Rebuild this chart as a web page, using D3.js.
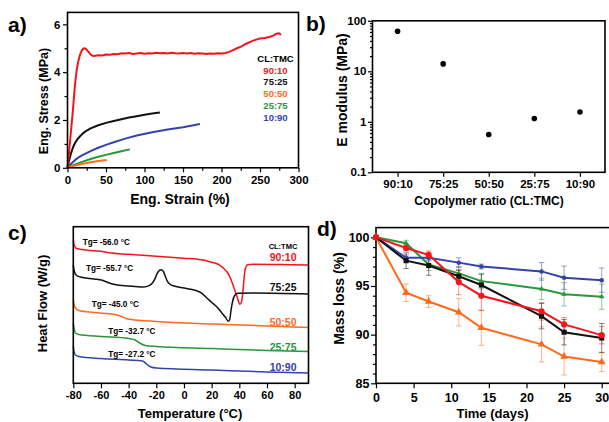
<!DOCTYPE html>
<html><head><meta charset="utf-8">
<script src="https://cdn.jsdelivr.net/npm/d3@7"></script>
<style>body{margin:0;background:#fff}</style>
</head><body><svg id="c" width="609" height="422"></svg>
<script>
const FONT = '"Liberation Sans", Arial, Helvetica, sans-serif';
// ---------- shared ----------
const ratios = ["90:10","75:25","50:50","25:75","10:90"];
const ratioColors = ["#f2161c","#111111","#ff6a1c","#28973a","#3443aa"];

// ---------- panel a: stress-strain ----------
const curve9010 = [[0,0],[1,0.3],[2,0.65],[3,1.0],[4,1.35],[5,1.7],[6,2.05],[7,2.4],[8,2.8],[9,3.2],[10,3.55],[11,3.85],[12,4.1],[14,4.45],[16,4.7],[18,4.87],[20,4.97],[22,5.0],[24,4.97],[27,4.86],[30,4.74],[33,4.68],[36,4.69],[40,4.71],[45,4.7],[50,4.74],[55,4.73],[60,4.76],[65,4.75],[70,4.79],[75,4.78],[80,4.8],[85,4.76],[90,4.78],[95,4.8],[100,4.77],[105,4.79],[110,4.78],[115,4.81],[120,4.79],[125,4.8],[130,4.78],[135,4.81],[140,4.79],[145,4.78],[150,4.8],[155,4.78],[160,4.8],[165,4.77],[170,4.79],[175,4.78],[180,4.76],[185,4.78],[190,4.77],[195,4.79],[200,4.78],[205,4.8],[210,4.85],[215,4.92],[220,5.0],[226,5.08],[232,5.19],[238,5.28],[244,5.35],[250,5.41],[256,5.43],[262,5.47],[267,5.53],[271,5.6],[274,5.63],[276,5.6],[277,5.55]];
const curve7525 = [[0,0],[2,0.3],[4,0.55],[6,0.75],[8,0.92],[10,1.05],[13,1.2],[16,1.31],[20,1.44],[25,1.56],[30,1.65],[40,1.78],[50,1.88],[60,1.96],[70,2.03],[80,2.1],[90,2.16],[100,2.22],[110,2.27],[120,2.31]];
const curve5050 = [[0,0],[5,0.06],[10,0.1],[20,0.17],[30,0.23],[40,0.28],[51,0.33]];
const curve2575 = [[0,0],[5,0.08],[10,0.14],[20,0.26],[30,0.37],[40,0.46],[50,0.54],[60,0.62],[70,0.69],[81,0.77]];
const curve1090 = [[0,0],[5,0.18],[10,0.33],[15,0.45],[20,0.54],[30,0.7],[40,0.84],[50,0.96],[60,1.07],[75,1.22],[90,1.35],[110,1.49],[130,1.6],[150,1.7],[172,1.83]];
const strainTicks = [0,50,100,150,200,250,300];
const strainMinor = [25,75,125,175,225,275];
const stressTicks = [0,2,4,6];
const stressMinor = [1,3,5];

// ---------- panel b: modulus ----------
const modulus = [62, 14, 0.56, 1.16, 1.56];
const modulusTicks = [0.1, 1, 10, 100];

// ---------- panel c: DSC ----------
const dsc9010 = [[-80,14.3],[-79.5,13.9],[-79,13.7],[-78,13.5],[-75,13.4],[-65,13.25],[-58,13.15],[-54,13.05],[-40,12.9],[-20,12.7],[0,12.5],[10,12.4],[15,12.3],[20,12.1],[23,12.0],[26,11.8],[29,11.45],[31,11.15],[33,10.7],[35,10.0],[37,9.2],[38.5,8.6],[39.7,8.05],[40.4,7.9],[41.5,8.1],[42.3,8.8],[43,9.8],[43.7,10.9],[44.5,11.55],[46,11.85],[50,11.9],[70,11.87],[90,11.83]];
const dsc7525 = [[-80,11.83],[-79.5,11.33],[-78,10.83],[-75,10.63],[-65,10.43],[-59,10.3],[-55,10.08],[-50,9.88],[-40,9.73],[-30,9.63],[-26,9.72],[-23,10.0],[-21,10.45],[-19.5,10.95],[-18,11.25],[-16.5,11.35],[-15,11.2],[-13.5,10.7],[-12,10.2],[-10,9.9],[-7,9.73],[0,9.53],[8,9.3],[13,9.0],[16,8.6],[20,8.1],[24,7.6],[27,7.1],[30,6.6],[32,6.2],[33,6.35],[34,7.3],[35,8.1],[36.5,8.75],[39,9.0],[50,9.03],[90,8.93]];
const dsc5050 = [[-80,8.33],[-79.5,7.93],[-78.5,7.53],[-76,7.28],[-65,7.08],[-50,6.88],[-46,6.73],[-42,6.48],[-38,6.38],[-20,6.18],[20,5.93],[60,5.73],[90,5.58]];
const dsc2575 = [[-80,5.93],[-79.5,5.53],[-78.5,5.03],[-76,4.88],[-60,4.68],[-40,4.48],[-36,4.38],[-32,4.03],[-28,3.78],[-20,3.68],[20,3.48],[60,3.28],[90,3.18]];
const dsc1090 = [[-80,3.68],[-79.5,3.23],[-78.5,2.83],[-76,2.68],[-60,2.48],[-40,2.33],[-30,2.23],[-27,1.93],[-24,1.63],[-20,1.53],[20,1.33],[60,1.13],[90,1.03]];
const tgLabels = ["Tg= -56.0 °C","Tg= -55.7 °C","Tg= -45.0 °C","Tg= -32.7 °C","Tg= -27.2 °C"];
const tempTicks = [-80,-60,-40,-20,0,20,40,60,80];

// ---------- panel d: degradation ----------
const days = [0,4,7,11,14,22,25,30];
const mass9010 = [100,98.9,98.2,95.4,94.0,92.4,91.05,89.95];
const err9010  = [0,0.3,0.4,1.3,1.5,0.9,0.7,0.9];
const mass7525 = [100,97.6,97.1,96.0,95.1,91.9,90.25,89.65];
const err7525  = [0,0.8,1.0,0.6,1.1,1.3,1.3,1.5];
const mass5050 = [100,94.3,93.4,92.3,90.7,89.0,87.75,87.2];
const err5050  = [0,0.9,0.6,1.4,1.8,1.8,1.9,1.0];
const mass2575 = [100,99.4,97.2,96.3,95.5,94.7,94.15,93.9];
const err2575  = [0,0.3,0.6,0.7,0.8,1.1,1.2,1.3];
const mass1090 = [100,97.9,97.9,97.4,97.0,96.5,95.85,95.6];
const err1090  = [0,0.3,0.3,0.5,0.25,0.9,1.2,1.25];
const dayTicks = [0,5,10,15,20,25,30];
const massTicks = [85,90,95,100];
const massMinor = d3.range(86,101).filter(v => v % 5 !== 0);

const svg = d3.select("#c");
svg.append("rect").attr("width",609).attr("height",422).attr("fill","#fff");

function styleAxis(g, fs) {
  g.select(".domain").remove();
  g.selectAll(".tick line").attr("stroke","#000").attr("stroke-width",1.2);
  g.selectAll(".tick text").attr("font-size",fs).attr("font-weight","bold")
    .attr("fill","#000").attr("font-family",FONT);
  return g;
}
function addAxis(gen, tr, fs) {
  const g = svg.append("g").attr("transform", tr).call(gen);
  return styleAxis(g, fs);
}
function frame(x0,y0,x1,y1){
  svg.append("rect").attr("x",x0).attr("y",y0).attr("width",x1-x0).attr("height",y1-y0)
    .attr("fill","none").attr("stroke","#000").attr("stroke-width",1.6);
}
function txt(x,y,s,fs,opts={}) {
  const t = svg.append("text").attr("x",x).attr("y",y).text(s)
    .attr("font-family",FONT).attr("font-weight","bold").attr("font-size",fs)
    .attr("fill",opts.fill||"#000").attr("text-anchor",opts.anchor||"start");
  if (opts.rotate) t.attr("transform",`rotate(-90,${x},${y})`);
  return t;
}
const fmt = d => String(d);

// ================= Panel a =================
{
  const x = d3.scaleLinear([0,300],[67.5,298.5]);
  const y = d3.scaleLinear([0,6.5],[167.8,12.4]);
  addAxis(d3.axisBottom(x).tickValues(strainTicks).tickFormat(fmt).tickSize(4.5).tickPadding(4), "translate(0,167.8)", 11.5);
  addAxis(d3.axisBottom(x).tickValues(strainMinor).tickFormat("").tickSize(3), "translate(0,167.8)", 11);
  addAxis(d3.axisLeft(y).tickValues(stressTicks).tickFormat(fmt).tickSize(4.5).tickPadding(2.5), "translate(67.5,0)", 11.5);
  addAxis(d3.axisLeft(y).tickValues(stressMinor).tickFormat("").tickSize(3), "translate(67.5,0)", 11);
  const line = d3.line().x(d=>x(d[0])).y(d=>y(d[1]));
  const curves = [curve9010, curve7525, curve5050, curve2575, curve1090];
  [4,3,2,1,0].forEach(i => {
    svg.append("path").attr("d", line(curves[i])).attr("fill","none")
      .attr("stroke", ratioColors[i]).attr("stroke-width", 2).attr("stroke-linejoin","round");
  });
  frame(67.5,12.4,298.5,167.8);
  txt(275.5,62,"CL:TMC",9.5,{anchor:"middle"});
  ratios.forEach((r,i)=> txt(275.5,73.5+i*11.8,r,9.5,{anchor:"middle",fill:ratioColors[i]}));
  txt(48,101,"Eng. Stress (MPa)",12.5,{anchor:"middle",rotate:true});
  txt(180,204,"Eng. Strain (%)",14,{anchor:"middle"});
  txt(8,32,"a)",21);
}

// ================= Panel b =================
{
  const x = d3.scalePoint(ratios,[372.5,605]).padding(0.55);
  const y = d3.scaleLog([0.1,100],[172.3,20.8]);
  const minor = [];
  [0.1,1,10].forEach(b => { for (let k=2;k<=9;k++) minor.push(b*k); });
  addAxis(d3.axisBottom(x).tickSize(4.5).tickPadding(3.5), "translate(0,172.3)", 11.5);
  addAxis(d3.axisLeft(y).tickValues(modulusTicks).tickFormat(d=>d<1?"0.1":String(d)).tickSize(4.5).tickPadding(1.5), "translate(372.5,0)", 11.5);
  addAxis(d3.axisLeft(y).tickValues(minor).tickFormat("").tickSize(2.5), "translate(372.5,0)", 11);
  frame(372.5,20.8,605,172.3);
  svg.append("g").selectAll("circle").data(modulus).join("circle")
    .attr("cx",(d,i)=>x(ratios[i])).attr("cy",d=>y(d)).attr("r",2.8).attr("fill","#000");
  txt(347,90,"E modulus (MPa)",14,{anchor:"middle",rotate:true});
  txt(489,205,"Copolymer ratio (CL:TMC)",12,{anchor:"middle"});
  txt(306,31,"b)",21);
}

// ================= Panel c =================
{
  const x = d3.scaleLinear([-80,90],[73.3,308.5]);
  const y = d3.scaleLinear([0,15.66],[383.3,226.7]);
  addAxis(d3.axisBottom(x).tickValues(tempTicks).tickFormat(fmt).tickSize(5).tickPadding(2.5), "translate(0,383.3)", 11);
  const line = d3.line().x(d=>x(d[0])).y(d=>y(d[1])).curve(d3.curveMonotoneX);
  const curves = [dsc9010, dsc7525, dsc5050, dsc2575, dsc1090];
  [4,3,2,0,1].forEach(i => {
    svg.append("path").attr("d", line(curves[i])).attr("fill","none")
      .attr("stroke", ratioColors[i]).attr("stroke-width", 1.5).attr("stroke-linejoin","round");
  });
  frame(73.3,226.7,308.5,383.3);
  const tgPos = [[82.7,245],[86,270.5],[91.7,307],[108.3,334],[108.3,357.2]];
  tgLabels.forEach((s,i)=> txt(tgPos[i][0],tgPos[i][1],s,8.2));
  txt(283,248.5,"CL:TMC",7.5,{anchor:"middle"});
  const legY = [260.5,290.5,325.5,350.5,371];
  ratios.forEach((r,i)=> txt(296.5,legY[i],r,10.5,{anchor:"end",fill:ratioColors[i]}));
  txt(47,303.5,"Heat Flow (W/g)",13,{anchor:"middle",rotate:true});
  txt(190,418,"Temperature (°C)",13,{anchor:"middle"});
  txt(8,240,"c)",21);
}

// ================= Panel d =================
{
  const x = d3.scaleLinear([0,31.5],[376,613]);
  const y = d3.scaleLinear([85,101],[383.3,227.6]);
  addAxis(d3.axisBottom(x).tickValues(dayTicks).tickFormat(fmt).tickSize(5).tickPadding(4.5), "translate(0,383.3)", 12.5);
  addAxis(d3.axisLeft(y).tickValues(massTicks).tickFormat(fmt).tickSize(5).tickPadding(1.5), "translate(376,0)", 12.5);
  addAxis(d3.axisLeft(y).tickValues(massMinor).tickFormat("").tickSize(3), "translate(376,0)", 11);
  frame(376,227.6,614,383.3);
  const series = [
    {m:mass5050,e:err5050,c:ratioColors[2],sym:d3.symbolTriangle,size:26},
    {m:mass2575,e:err2575,c:ratioColors[3],sym:d3.symbolTriangle2,size:22},
    {m:mass1090,e:err1090,c:ratioColors[4],sym:d3.symbolCircle,size:16},
    {m:mass7525,e:err7525,c:ratioColors[1],sym:d3.symbolSquare,size:26},
    {m:mass9010,e:err9010,c:ratioColors[0],sym:d3.symbolCircle,size:30}
  ];
  const line = d3.line().x((d,i)=>x(days[i])).y(d=>y(d));
  series.forEach(s => {
    const g = svg.append("g").attr("stroke",s.c).attr("stroke-opacity",0.5).attr("stroke-width",1);
    days.forEach((dd,i)=>{
      if (s.e[i] <= 0) return;
      const cx = x(dd), y0 = y(s.m[i]-s.e[i]), y1 = y(s.m[i]+s.e[i]);
      g.append("line").attr("x1",cx).attr("x2",cx).attr("y1",y0).attr("y2",y1);
      g.append("line").attr("x1",cx-2.8).attr("x2",cx+2.8).attr("y1",y0).attr("y2",y0);
      g.append("line").attr("x1",cx-2.8).attr("x2",cx+2.8).attr("y1",y1).attr("y2",y1);
    });
  });
  series.forEach(s => {
    svg.append("path").attr("d",line(s.m)).attr("fill","none").attr("stroke",s.c).attr("stroke-width",2);
    svg.append("g").selectAll("path").data(s.m).join("path")
      .attr("transform",(d,i)=>`translate(${x(days[i])},${y(d)})`)
      .attr("d", d3.symbol(s.sym, s.size)).attr("fill", s.c);
  });
  txt(344,298.5,"Mass loss (%)",14,{anchor:"middle",rotate:true});
  txt(492.5,418,"Time (days)",13,{anchor:"middle"});
  txt(317,236,"d)",21);
}
</script></body></html>
